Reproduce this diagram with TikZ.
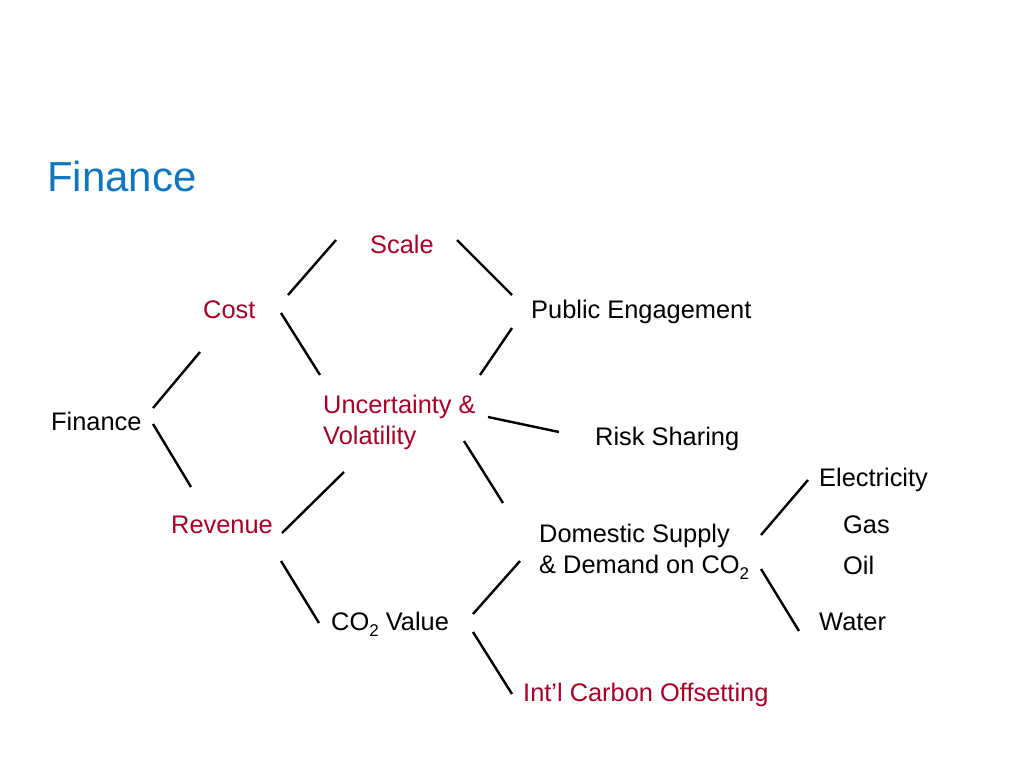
\documentclass[tikz,border=0pt]{standalone}
\usepackage{fontspec}
\setmainfont{Liberation Sans}
\definecolor{titleblue}{RGB}{16,118,190}
\definecolor{darkred}{RGB}{165,0,40}
\newcommand{\subtwo}{\raisebox{-6pt}{\fontsize{17}{17}\selectfont 2}}
\begin{document}
\begin{tikzpicture}[x=1pt,y=-1pt,
  lbl/.style={anchor=base west,inner sep=0pt,font=\fontsize{25.4}{30.5}\selectfont,align=left},
  red/.style={lbl,text=darkred},
  link/.style={line width=2.4pt}]
\useasboundingbox (0,0) rectangle (1024,768);
\node[anchor=base west,inner sep=0pt,text=titleblue,font=\fontsize{42}{48}\selectfont] (title) at (47,191) {Finance};
% items (multi-line nodes sit on their last line)
\node[lbl] (fin) at (51,430) {Finance};
\node[red] (cost) at (203,318) {Cost};
\node[red] (rev) at (171,533) {Revenue};
\node[red] (scale) at (370,253) {Scale};
\node[red] (unc) at (323,444) {Uncertainty \&\\Volatility};
\node[lbl] (co2) at (331,630) {CO\subtwo{} Value};
\node[lbl] (pub) at (531,318) {Public Engagement};
\node[lbl] (risk) at (595,445) {Risk Sharing};
\node[lbl] (dom) at (539,573) {Domestic Supply\\\& Demand on CO\subtwo};
\node[red] (intl) at (523,701) {Int’l Carbon Offsetting};
\node[lbl] (elec) at (819,486) {Electricity};
\node[lbl] (gas) at (843,533) {Gas};
\node[lbl] (oil) at (843,574) {Oil};
\node[lbl] (water) at (819,630) {Water};
% line ends
\coordinate (fin-a) at (153,408); \coordinate (cost-a) at (200,352);
\coordinate (fin-b) at (153,424); \coordinate (rev-a) at (191,487);
\coordinate (cost-b) at (288,295); \coordinate (scale-a) at (336,240);
\coordinate (cost-c) at (281,313); \coordinate (unc-a) at (320,375);
\coordinate (scale-b) at (457,240); \coordinate (pub-a) at (512,295);
\coordinate (unc-b) at (480,375); \coordinate (pub-b) at (512,328);
\coordinate (unc-c) at (488,417); \coordinate (risk-a) at (559,432);
\coordinate (unc-d) at (464,441); \coordinate (dom-a) at (503,503);
\coordinate (rev-b) at (282,533); \coordinate (unc-e) at (344,472);
\coordinate (rev-c) at (281,561); \coordinate (co2-a) at (319,623);
\coordinate (co2-b) at (473,614); \coordinate (dom-b) at (520,561);
\coordinate (co2-c) at (473,632); \coordinate (intl-a) at (512,694);
\coordinate (dom-c) at (761,535); \coordinate (elec-a) at (808,480);
\coordinate (dom-d) at (761,569); \coordinate (water-a) at (799,631);
\draw[link] (fin-a) -- (cost-a);
\draw[link] (fin-b) -- (rev-a);
\draw[link] (cost-b) -- (scale-a);
\draw[link] (cost-c) -- (unc-a);
\draw[link] (scale-b) -- (pub-a);
\draw[link] (unc-b) -- (pub-b);
\draw[link] (unc-c) -- (risk-a);
\draw[link] (unc-d) -- (dom-a);
\draw[link] (rev-b) -- (unc-e);
\draw[link] (rev-c) -- (co2-a);
\draw[link] (co2-b) -- (dom-b);
\draw[link] (co2-c) -- (intl-a);
\draw[link] (dom-c) -- (elec-a);
\draw[link] (dom-d) -- (water-a);
\end{tikzpicture}
\end{document}
